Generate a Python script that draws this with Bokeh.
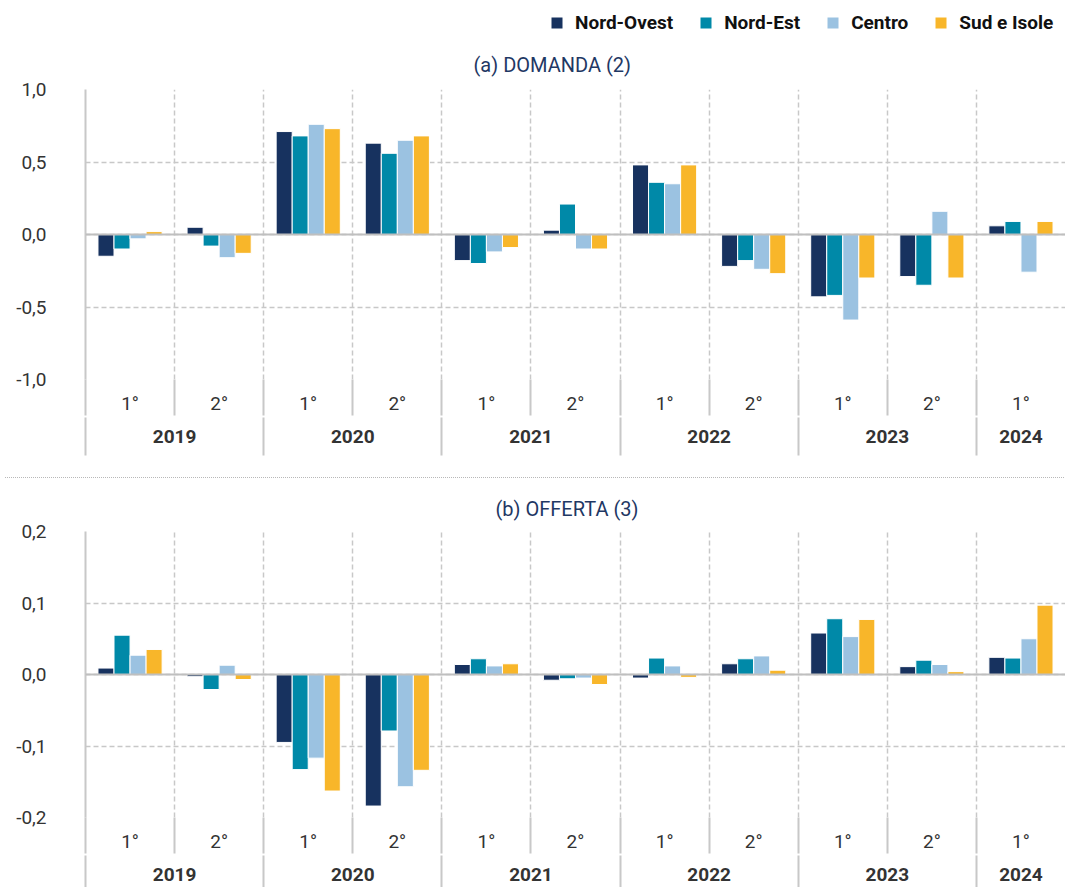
from bokeh.plotting import figure
from bokeh.models import (ColumnDataSource, FactorRange, Range1d, LinearAxis, FixedTicker,
                          Grid, Span, Legend, LegendItem, Div, Title)
from bokeh.transform import dodge
from bokeh.layouts import column
from bokeh.embed import file_html
from bokeh.resources import INLINE

# ---------------- data ----------------
years = ["2019", "2019", "2020", "2020", "2021", "2021", "2022", "2022", "2023", "2023", "2024"]
semesters = ["1°", "2°", "1°", "2°", "1°", "2°", "1°", "2°", "1°", "2°", "1°"]
regions = ["Nord-Ovest", "Nord-Est", "Centro", "Sud e Isole"]

domanda_nord_ovest = [-0.15, 0.05, 0.71, 0.63, -0.18, 0.03, 0.48, -0.22, -0.43, -0.29, 0.06]
domanda_nord_est = [-0.10, -0.08, 0.68, 0.56, -0.20, 0.21, 0.36, -0.18, -0.42, -0.35, 0.09]
domanda_centro = [-0.03, -0.16, 0.76, 0.65, -0.12, -0.10, 0.35, -0.24, -0.59, 0.16, -0.26]
domanda_sud_isole = [0.02, -0.13, 0.73, 0.68, -0.09, -0.10, 0.48, -0.27, -0.30, -0.30, 0.09]

offerta_nord_ovest = [0.009, -0.003, -0.095, -0.184, 0.014, -0.008, -0.005, 0.015, 0.058, 0.011, 0.024]
offerta_nord_est = [0.055, -0.021, -0.133, -0.079, 0.022, -0.006, 0.023, 0.022, 0.078, 0.020, 0.023]
offerta_centro = [0.027, 0.013, -0.117, -0.157, 0.012, -0.005, 0.012, 0.026, 0.053, 0.014, 0.050]
offerta_sud_isole = [0.035, -0.007, -0.163, -0.134, 0.015, -0.014, -0.004, 0.006, 0.077, 0.004, 0.097]

domanda_ticks = [-1.0, -0.5, 0.0, 0.5, 1.0]
domanda_tick_labels = ["-1,0", "-0,5", "0,0", "0,5", "1,0"]
offerta_ticks = [-0.2, -0.1, 0.0, 0.1, 0.2]
offerta_tick_labels = ["-0,2", "-0,1", "0,0", "0,1", "0,2"]

title_domanda = "(a) DOMANDA (2)"
title_offerta = "(b) OFFERTA (3)"

# ---------------- style ----------------
COLORS = ["#17325f", "#0089a8", "#9bc2e1", "#f8b62a"]
OFFSETS = [-0.27, -0.09, 0.09, 0.27]
BAR_W = 0.18
FONT = "Roboto"
GRID = "#c8c8c8"
TXT = "#333333"
TITLE_C = "#1f3864"
W = 1065


def make_panel(title, series, ticks, tick_labels, height, b_top, b_bottom, title_offset,
               title_standoff):
    factors = list(zip(years, semesters))
    n = len(factors)
    p = figure(x_range=FactorRange(factors=factors, range_padding=0, factor_padding=0,
                                   group_padding=0),
               y_range=Range1d(ticks[0], ticks[-1]),
               width=W, height=height, min_border_left=85, min_border_right=0,
               min_border_top=b_top, min_border_bottom=b_bottom,
               x_axis_location=None, toolbar_location=None, output_backend="svg",
               title=None)
    p.outline_line_color = None
    p.background_fill_color = "white"
    p.border_fill_color = "white"

    # y axis
    p.yaxis.ticker = FixedTicker(ticks=ticks)
    p.yaxis.major_label_overrides = dict(zip(ticks, tick_labels))
    p.yaxis.major_label_text_font = FONT
    p.yaxis.major_label_text_font_size = "19px"
    p.yaxis.major_label_text_color = TXT
    p.yaxis.major_tick_line_color = None
    p.yaxis.minor_tick_line_color = None
    p.yaxis.major_tick_out = 0
    p.yaxis.major_tick_in = 0
    p.yaxis.major_label_standoff = 39
    p.yaxis.axis_line_color = GRID
    p.yaxis.axis_line_width = 2

    # grids (slot boundaries are the factor-range synthetic coordinates 0..n)
    p.xgrid.visible = False
    p.ygrid.ticker = FixedTicker(ticks=ticks)
    p.ygrid.grid_line_color = GRID
    p.ygrid.grid_line_dash = "5 3"
    p.ygrid.grid_line_width = 1.5

    bounds = list(range(n + 1))
    p.add_layout(Grid(dimension=0, ticker=FixedTicker(ticks=bounds[1:-1]),
                      grid_line_color=GRID, grid_line_dash="5 3", grid_line_width=1.5))

    # bars
    data = {"x": factors}
    for i, s in enumerate(series):
        data["s%d" % i] = s
    src = ColumnDataSource(data)
    for i in range(len(series)):
        p.vbar(x=dodge("x", OFFSETS[i], range=p.x_range), top="s%d" % i, bottom=0,
               width=BAR_W, source=src, fill_color=COLORS[i],
               line_color="white", line_width=1)

    p.add_layout(Span(location=0, dimension="width", line_color="#bfbfbf", line_width=2))

    # semester labels + short separators
    centers = [i + 0.5 for i in range(n)]
    sem_axis = LinearAxis(ticker=FixedTicker(ticks=centers, minor_ticks=bounds[:-1]),
                          major_label_overrides=dict(zip(centers, semesters)),
                          major_tick_line_color=None, major_tick_out=0, major_tick_in=0,
                          minor_tick_line_color=GRID, minor_tick_line_width=2,
                          minor_tick_out=0, minor_tick_in=-36,
                          axis_line_color=None, major_label_standoff=12,
                          major_label_text_font=FONT, major_label_text_font_size="19px",
                          major_label_text_color=TXT)
    p.add_layout(sem_axis, "below")

    # year labels + long separators
    year_list = list(dict.fromkeys(years))
    year_starts = [years.index(y) for y in year_list]
    year_centers = [years.index(y) + years.count(y) / 2 for y in year_list]
    year_axis = LinearAxis(ticker=FixedTicker(ticks=year_centers, minor_ticks=year_starts),
                           major_label_overrides=dict(zip(year_centers, year_list)),
                           major_tick_line_color=None, major_tick_out=0, major_tick_in=0,
                           minor_tick_line_color=GRID, minor_tick_line_width=2,
                           minor_tick_out=0, minor_tick_in=-38,
                           axis_line_color=None, major_label_standoff=12,
                           major_label_text_font=FONT, major_label_text_font_size="19px",
                           major_label_text_font_style="bold",
                           major_label_text_color=TXT)
    p.add_layout(year_axis, "below")

    p.add_layout(Title(text=title, align="left", offset=title_offset, standoff=title_standoff,
                       text_font=FONT, text_font_size="20px", text_font_style="normal",
                       text_color=TITLE_C), "above")
    return p


# ---------------- legend strip ----------------
lf = figure(width=W, height=36, x_range=Range1d(0, 1), y_range=Range1d(0, 1),
            min_border=0, toolbar_location=None, output_backend="svg", title=None)
lf.axis.visible = False
lf.grid.visible = False
lf.outline_line_color = None
lf.background_fill_color = "white"
lf.border_fill_color = "white"
proxies = [lf.vbar(x=[-1], top=[0], bottom=[0], width=0.1, fill_color=COLORS[i],
                   line_color="white", line_width=1) for i in range(len(regions))]
legend = Legend(items=[LegendItem(label=regions[i], renderers=[proxies[i]])
                       for i in range(len(regions))],
                orientation="horizontal", location=(464, 2),
                glyph_width=15, glyph_height=15, label_standoff=11, spacing=25,
                padding=0, margin=0, border_line_color=None, background_fill_alpha=0,
                label_text_font=FONT, label_text_font_size="19px",
                label_text_font_style="bold", label_text_color="#111111")
lf.add_layout(legend)

p1 = make_panel(title_domanda,
                [domanda_nord_ovest, domanda_nord_est, domanda_centro, domanda_sud_isole],
                domanda_ticks, domanda_tick_labels, 436, 53, 93, 388, 26)
sep = Div(text="", width=W, height=1, styles={"border-top": "1px dotted #b8b8b8"})
p2 = make_panel(title_offerta,
                [offerta_nord_ovest, offerta_nord_est, offerta_centro, offerta_sud_isole],
                offerta_ticks, offerta_tick_labels, 404, 48, 70, 410, 22)

layout = column(lf, p1, sep, p2)
open("out.html", "w").write(file_html(layout, INLINE))
